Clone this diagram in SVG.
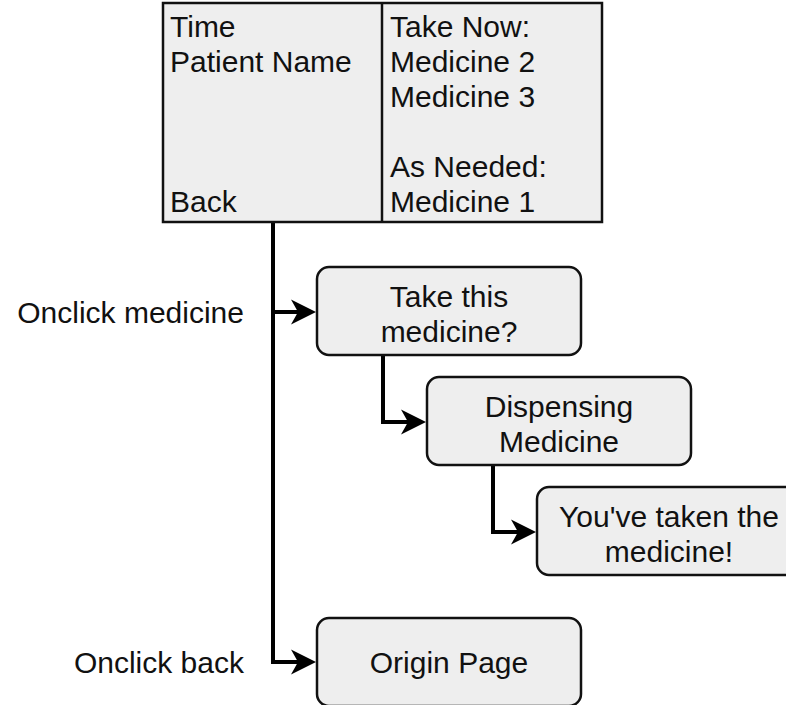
<svg xmlns="http://www.w3.org/2000/svg" width="786" height="705" viewBox="0 0 786 705">
<style>
text{font-family:"Liberation Sans",Arial,sans-serif;font-size:30px;fill:#111}
.box{fill:#eeeeee;stroke:#111;stroke-width:2.5}
.mid{text-anchor:middle}
.end{text-anchor:end}
.edge{fill:none;stroke:#000;stroke-width:4}
</style>
<defs>
<marker id="arr" markerUnits="userSpaceOnUse" markerWidth="34" markerHeight="28" viewBox="-26 -14 34 28" refX="-6" refY="0" orient="auto">
<path d="M0,0 L-25,-12.5 L-18,0 L-25,12.5 Z" fill="#000"/>
</marker>
</defs>
<rect width="786" height="705" fill="#fff"/>
<g id="connectors">
<path class="edge" d="M273,222 V312 H310" marker-end="url(#arr)"/>
<path class="edge" d="M273,222 V662 H310" marker-end="url(#arr)"/>
<path class="edge" d="M383,355 V422 H420" marker-end="url(#arr)"/>
<path class="edge" d="M493,465 V532 H530" marker-end="url(#arr)"/>
</g>
<g id="screen">
<rect class="box" x="163" y="3" width="439" height="219"/>
<line x1="382" y1="3" x2="382" y2="222" stroke="#111" stroke-width="2.5"/>
<text x="170" y="37">Time</text>
<text x="170" y="72">Patient Name</text>
<text x="170" y="212">Back</text>
<text x="390" y="37">Take Now:</text>
<text x="390" y="72">Medicine 2</text>
<text x="390" y="107">Medicine 3</text>
<text x="390" y="177">As Needed:</text>
<text x="390" y="212">Medicine 1</text>
</g>
<g id="confirm">
<rect class="box" x="317" y="267" width="264" height="88" rx="12"/>
<text class="mid" x="449" y="306.5">Take this</text>
<text class="mid" x="449" y="341.5">medicine?</text>
</g>
<g id="dispensing">
<rect class="box" x="427" y="377" width="264" height="88" rx="12"/>
<text class="mid" x="559" y="416.5">Dispensing</text>
<text class="mid" x="559" y="451.5">Medicine</text>
</g>
<g id="taken">
<rect class="box" x="537" y="487" width="264" height="88" rx="12"/>
<text class="mid" x="669" y="526.5">You've taken the</text>
<text class="mid" x="669" y="561.5">medicine!</text>
</g>
<g id="origin">
<rect class="box" x="317" y="618" width="264" height="88" rx="12"/>
<text class="mid" x="449" y="673">Origin Page</text>
</g>
<g id="labels">
<text class="end" x="244" y="323">Onclick medicine</text>
<text class="end" x="244" y="673">Onclick back</text>
</g>
</svg>
